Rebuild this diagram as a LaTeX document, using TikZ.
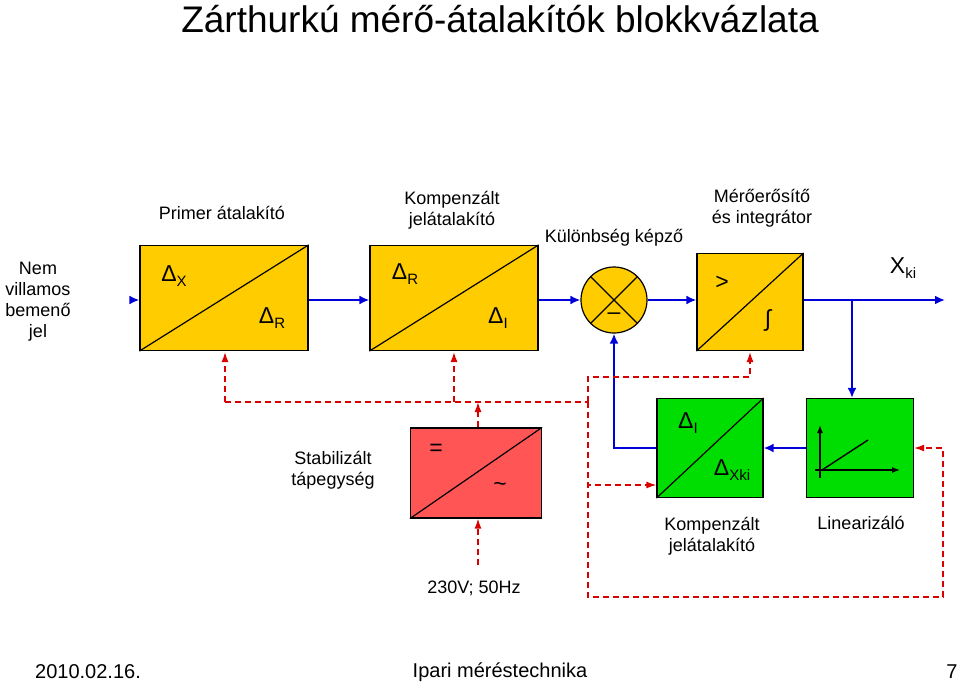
\documentclass[tikz,border=0pt]{standalone}
\usepackage{fontspec}
\setmainfont{Liberation Sans}
\usetikzlibrary{arrows.meta,positioning}
\definecolor{blkyellow}{HTML}{FFCC00}
\definecolor{blkgreen}{HTML}{00DD00}
\definecolor{blkred}{HTML}{FF5555}
\newcommand{\sbx}[1]{\raisebox{-0.45ex}{\fontsize{15}{17}\selectfont #1}}
\tikzset{
  blk/.style={rectangle,draw,line width=1.2pt,inner sep=0pt},
  sig/.style={draw=blue!85!black,line width=2.4pt,-{Latex[length=10pt,width=9pt]}},
  pwr/.style={draw=red!85!black,dash pattern=on 6pt off 4pt,line width=1.4pt,-{Latex[length=10pt,width=7pt]}},
  pwrl/.style={draw=red!85!black,dash pattern=on 6pt off 4pt,line width=1.4pt},
  lbl/.style={font=\fontsize{18}{21}\selectfont,align=center},
  sym/.style={font=\fontsize{23}{25}\selectfont},
}
\begin{document}
\begin{tikzpicture}[x=1pt,y=-1pt]
    \useasboundingbox (0,0) rectangle (960,685);
    % Title and footer
    \node[font=\fontsize{37}{40}\selectfont] (title) at (500,19) {Zárthurkú mérő-átalakítók blokkvázlata};
    \node[font=\fontsize{20}{22}\selectfont] (date) at (88,672) {2010.02.16.};
    \node[font=\fontsize{20}{22}\selectfont] (course) at (500,672) {Ipari méréstechnika};
    \node[font=\fontsize{20}{22}\selectfont] (page) at (952,672) {7};
    % Blocks
    \node[blk,fill=blkyellow,minimum width=168,minimum height=105] (prim) at (224,298) {};
    \node[blk,fill=blkyellow,minimum width=168,minimum height=105] (komp) at (454,298) {};
    \node[circle,draw,line width=1.2pt,fill=blkyellow,minimum size=66] (diff) at (614,300) {};
    \node[blk,fill=blkyellow,minimum width=106,minimum height=97] (amp) at (750,302) {};
    \node[blk,fill=blkgreen,minimum width=106,minimum height=99] (komp2) at (710,448) {};
    \node[blk,fill=blkgreen,minimum width=107,minimum height=99] (lin) at (860,448) {};
    \node[blk,fill=blkred,minimum width=131,minimum height=90] (psu) at (476,473) {};
    \foreach \b in {prim,komp,amp,komp2,psu}
      \draw[line width=1.2pt] (\b.south west) -- (\b.north east);
    \draw[line width=1.2pt] (diff.north west) -- (diff.south east) (diff.north east) -- (diff.south west);
    % Inner symbols
    \node[sym] at (174,276) {Δ\sbx{X}};
    \node[sym] at (272,318) {Δ\sbx{R}};
    \node[sym] at (405,274) {Δ\sbx{R}};
    \node[sym] at (498,318) {Δ\sbx{I}};
    \node[sym] at (614,316) {–};
    \node[sym] at (722,283) {>};
    \node[sym] at (768,320) {∫};
    \node[sym] at (688,423) {Δ\sbx{I}};
    \node[sym] at (732,470) {Δ\sbx{Xki}};
    \node[sym] at (436,450) {=};
    \node[sym] at (500,487) {\textasciitilde};
    \draw[line width=1.4pt,-{Latex[length=8pt]}] (820,478) -- (820,425);
    \draw[line width=1.4pt,-{Latex[length=8pt]}] (815,470) -- (900,470);
    \draw[line width=1.4pt] (822,470) -- (868,440);
    % Labels
    \node[lbl] (inlbl) at (38,302) {Nem\\villamos\\bemenő\\jel};
    \node[lbl] at (222,213) {Primer átalakító};
    \node[lbl] at (452,210) {Kompenzált\\jelátalakító};
    \node[lbl] at (614,238) {Különbség képző};
    \node[lbl] at (762,208) {Mérőerősítő\\és integrátor};
    \node[sym] (out) at (903,268) {X\sbx{ki}};
    \node[lbl] at (333,470) {Stabilizált\\tápegység};
    \node[lbl] at (712,536) {Kompenzált\\jelátalakító};
    \node[lbl] at (861,523) {Linearizáló};
    \node[lbl] (mains) at (474,588) {230V; 50Hz};
    % Signal path
    \coordinate (in) at (135,300);
    \coordinate (xki) at (945,300);
    \coordinate (br) at (852,300);
    \draw[sig] (in) -- (prim.west |- in);
    \draw[sig] (prim.east |- in) -- (komp.west |- in);
    \draw[sig] (komp.east |- in) -- (diff.west);
    \draw[sig] (diff.east) -- (amp.west |- diff.east);
    \draw[sig] (amp.east |- in) -- (xki);
    \draw[sig] (br) -- (br |- lin.north);
    \draw[sig] (lin.west) -- (komp2.east);
    \draw[sig] (komp2.west) -| (diff.south);
    % Supply lines
    \coordinate (bus) at (588,402);
    \draw[pwr] (478,565) -- (psu.south -| 478,0);
    \draw[pwr] (psu.north -| 478,0) -- (478,402);
    \draw[pwr] (225,402) -- (225,352);
    \draw[pwr] (454,402) -- (454,352);
    \draw[pwrl] (225,402) -- (bus);
    \draw[pwr] (bus) |- (750,377) -- (750,352);
    \draw[pwr] (bus) |- (komp2.west |- 0,485);
    \draw[pwr] (bus) |- (943,597) |- (lin.east);
\end{tikzpicture}
\end{document}
